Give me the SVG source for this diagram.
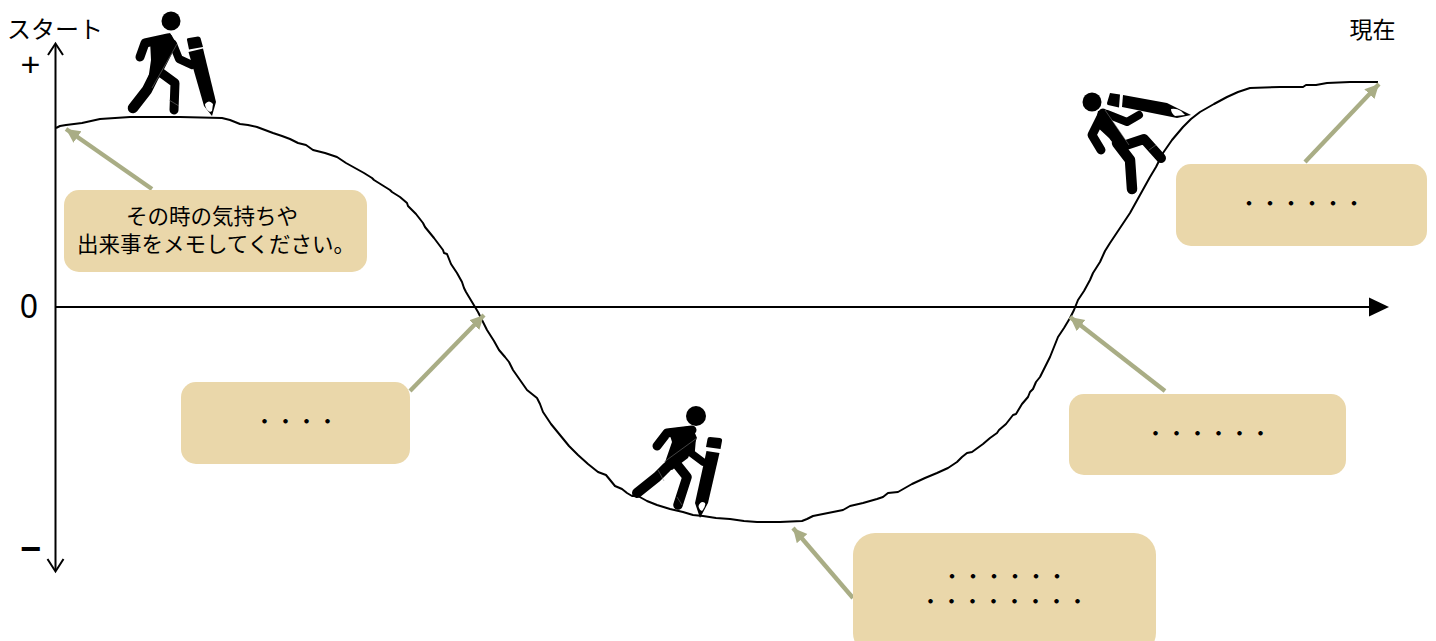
<svg xmlns="http://www.w3.org/2000/svg" width="1436" height="641" viewBox="0 0 1436 641">
<style>
text{font-family:"Liberation Sans","Noto Sans CJK JP",sans-serif;fill:#000;text-anchor:middle}
.box{fill:#ead7aa}
.t{font-size:21.500px}
.d{font-size:21px}
.ax{fill:none;stroke:#000;stroke-width:2}
.curve{fill:none;stroke:#000;stroke-width:2;stroke-linejoin:round}
.arr{fill:none;stroke:#a9ad85;stroke-width:4.300;marker-end:url(#ah)}
.limb{fill:none;stroke:#000;stroke-linecap:round;stroke-linejoin:round}
.seam{fill:none;stroke:#888;stroke-width:.5}
</style>
<defs>
<marker id="ah" markerUnits="userSpaceOnUse" markerWidth="16" markerHeight="16" refX="14" refY="8" orient="auto"><path d="M0 1L14 8L0 15Z" fill="#a9ad85"/></marker>
<marker id="tri" markerUnits="userSpaceOnUse" markerWidth="22" markerHeight="22" refX="2" refY="10" orient="auto"><path d="M0 0.500L20 10L0 19.500Z" fill="#000"/></marker>
</defs>
<g id="connectors">
<path class="ax" d="M55.500 44V571"/>
<path class="ax" d="M48 55L55.500 43.500L63 55"/>
<path class="ax" d="M47.500 559L55.500 571.500L63.500 559"/>
<path class="ax" d="M55.500 307H1371" marker-end="url(#tri)"/>
<polyline class="curve" points="56,128 60,126 66,125 82,123 100,119 115,118 130,117 180,117 222,118 230,120 240,124 248,125 257,127 265,130 273,133 282,136 290,139 298,143 306,145 313,150 325,153 337,157 346,163 355,168 364,173 372,178 374,180 382,185 390,190 392,192 400,197 407,203 408,206 416,214 423,223 425,227 434,238 443,250 444,253 447,254 451,264 457,273 462,282 464,288 466,292 472,302 478,312 483,322 487,330 494,341 499,350 505,357 509,362 513,370 520,380 527,390 532,394 537,398 540,404 543,412 551,424 560,435 569,446 578,455 588,464 598,472 606,475 615,486 622,489 627,493 632,496 638,496 647,501 657,505 670,509 683,512 693,515 703,516 716,518 730,519 744,521 757,522 780,522 802,521 807,519 813,516 828,513 843,510 850,506 863,503 877,499 883,497 888,493 898,492 905,488 912,484 925,478 937,473 948,468 957,462 962,457 967,453 972,452 983,444 990,438 997,433 999,430 1006,424 1013,415 1016,414 1022,404 1028,397 1030,392 1033,389 1036,382 1040,377 1045,367 1050,357 1054,347 1058,337 1064,328 1070,318 1074,310 1078,300 1084,291 1090,280 1093,273 1100,262 1105,251 1110,243 1120,228 1130,213 1140,195 1150,177 1156,167 1163,153 1172,140 1183,127 1191,119 1200,112 1214,104 1227,97 1238,92 1250,88 1280,87 1303,87 1306,85 1316,85 1327,83 1350,82 1378,82"/>
<line class="arr" x1="152" y1="189" x2="66" y2="129"/>
<line class="arr" x1="410" y1="391" x2="484" y2="315"/>
<line class="arr" x1="1165" y1="391" x2="1070" y2="317"/>
<line class="arr" x1="853" y1="598" x2="793" y2="528"/>
<line class="arr" x1="1305" y1="162" x2="1379" y2="84"/>
</g>
<g id="axis-labels">
<text x="55" y="38" style="font-size:24px">スタート</text>
<text x="1372.500" y="38" style="font-size:23px">現在</text>
<text x="30.500" y="76" style="font-size:34px">+</text>
<text x="29" y="318" style="font-size:32px;font-family:'Noto Sans',sans-serif">0</text>
<text x="30.500" y="561" style="font-size:36px;font-weight:700">−</text>
</g>
<g id="note-1">
<rect class="box" x="64" y="190" width="303" height="82" rx="15"/>
<text class="t" x="212" y="224">その時の気持ちや</text>
<text class="t" x="216" y="251.500">出来事をメモしてください。</text>
</g>
<g id="note-2">
<rect class="box" x="181" y="382" width="229" height="82" rx="15"/>
<text class="d" x="296" y="429">・・・・</text>
</g>
<g id="note-3">
<rect class="box" x="853" y="533" width="303" height="122" rx="22"/>
<text class="d" x="1004.500" y="584">・・・・・・</text>
<text class="d" x="1004" y="609">・・・・・・・・</text>
</g>
<g id="note-4">
<rect class="box" x="1069" y="394" width="277" height="81" rx="15"/>
<text class="d" x="1208" y="441">・・・・・・</text>
</g>
<g id="note-5">
<rect class="box" x="1176" y="164" width="251" height="82" rx="15"/>
<text class="d" x="1301.500" y="211">・・・・・・</text>
</g>
<g id="climber-1">
<circle cx="171" cy="21" r="9.500"/>
<path class="limb" stroke-width="9" d="M140 57L145 43L168 38"/>
<path d="M150 40L170 33L177 44L160 77L147 88L151 60Z"/>
<path class="limb" stroke-width="8" d="M173 44L179 59L192 65"/>
<path class="limb" stroke-width="10.500" d="M154 76L147 90L133 108"/>
<path class="limb" stroke-width="9" d="M160 72L175 83L174 110"/>
<path d="M187 40Q186.500 38 189 38L198 36.500Q200 36.500 200.500 38L203 47L189 49.500Z"/>
<path d="M188.500 52L203 48.500L216 102L212 116L204 106Z"/>
<path d="M205 104Q209 99 213 104L212 111L210 112Q205 109 205 104Z" fill="#fff"/>
<path class="seam" d="M177 44L152 88M169 100L179 106"/>
</g>
<g id="climber-2">
<circle cx="696" cy="416" r="10"/>
<path class="limb" stroke-width="9" d="M657 446L667 433L692 430"/>
<path d="M668 429L692 426L697 438L688 458L672 470L663 468L672 442Z"/>
<path class="limb" stroke-width="7.500" d="M692 441L691 453L703 462"/>
<path class="limb" stroke-width="10" d="M667 467L657 477L637 493"/>
<path class="limb" stroke-width="9.500" d="M675 462L687 477L678 505"/>
<path d="M707.500 439Q707.500 437 710 437L720 438Q722.500 438.500 722 441L720.500 449L706 447Z"/>
<path d="M706.500 451L719.500 453L708 503L700 518L695 503Z"/>
<path d="M698.500 506Q701 500 705 503Q706 506 702 511Q699 510 698.500 506Z" fill="#fff"/>
<path class="seam" d="M697 438L664 462M658 470L664 481M677 497L682 505"/>
</g>
<g id="climber-3">
<circle cx="1092" cy="102" r="9.500"/>
<path class="limb" stroke-width="9" d="M1103 113L1092 135L1101 150"/>
<path d="M1098 111L1105 110L1129 145L1122 155L1109 138L1095 125Z"/>
<path class="limb" stroke-width="8" d="M1107 114L1127 122L1139 115"/>
<path class="limb" stroke-width="10" d="M1126 145L1144 139L1161 158"/>
<path class="limb" stroke-width="10.500" d="M1117 143L1130 160L1132 189"/>
<path d="M1110 93L1120 94.500L1119 107.500L1108 105Q1107 105 1107 103Z"/>
<path d="M1123 95L1167 103L1191 115L1177 118L1122 107Z"/>
<path d="M1171 109Q1176 108 1181 111L1185 115L1175 116Q1171 113 1171 109Z" fill="#fff"/>
<path class="seam" d="M1105 110L1129 145M1149 150L1156 145"/>
</g>
</svg>
